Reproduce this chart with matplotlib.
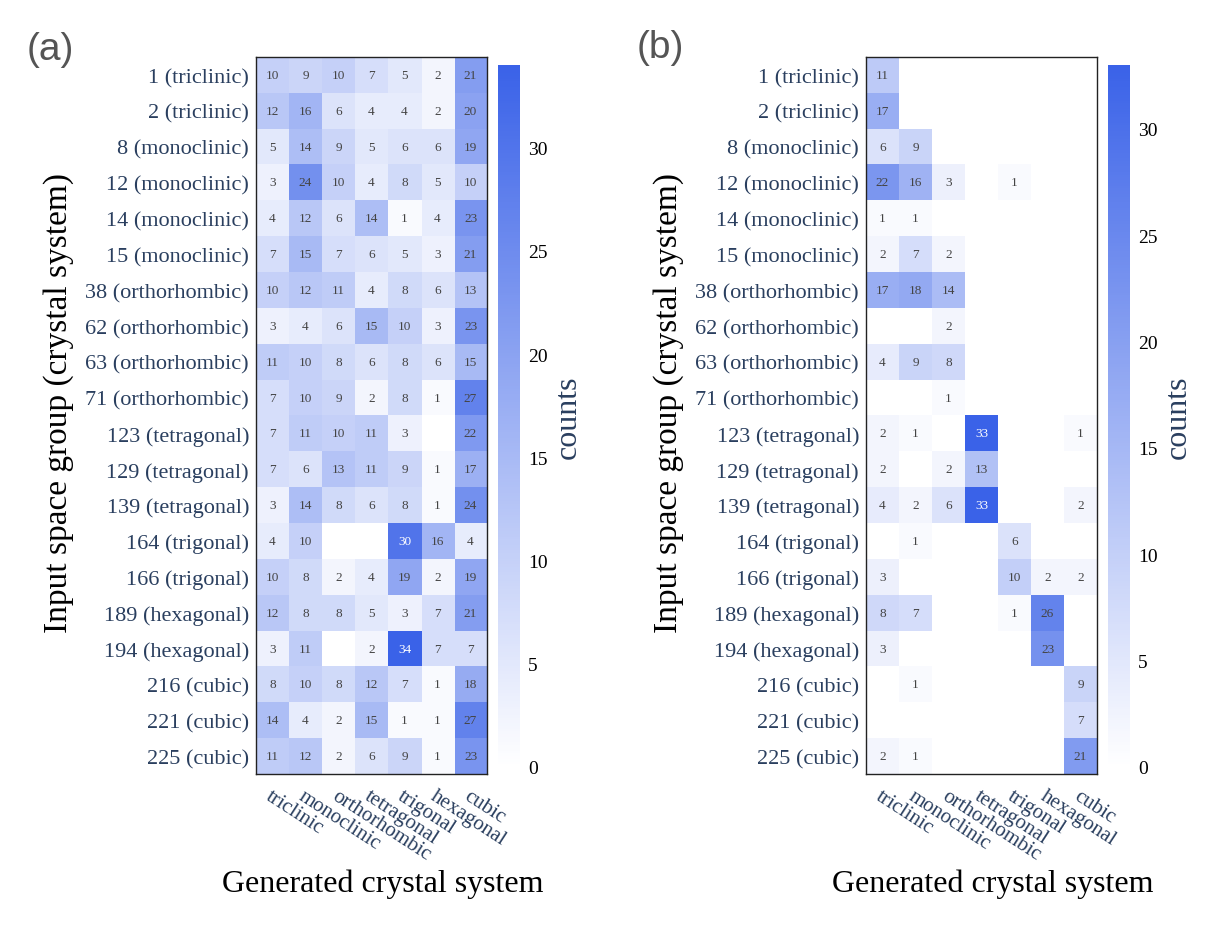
import numpy as np
import matplotlib
matplotlib.use("Agg")
import matplotlib.pyplot as plt
from matplotlib.colors import LinearSegmentedColormap

plt.rcParams["font.family"] = ["Liberation Serif", "DejaVu Serif"]

# ----------------------------------------------------------------
# Data
# ----------------------------------------------------------------
space_groups = [
    "1 (triclinic)", "2 (triclinic)", "8 (monoclinic)", "12 (monoclinic)",
    "14 (monoclinic)", "15 (monoclinic)", "38 (orthorhombic)", "62 (orthorhombic)",
    "63 (orthorhombic)", "71 (orthorhombic)", "123 (tetragonal)", "129 (tetragonal)",
    "139 (tetragonal)", "164 (trigonal)", "166 (trigonal)", "189 (hexagonal)",
    "194 (hexagonal)", "216 (cubic)", "221 (cubic)", "225 (cubic)",
]
crystal_systems = ["triclinic", "monoclinic", "orthorhombic", "tetragonal",
                   "trigonal", "hexagonal", "cubic"]

counts_a = np.array([
    [10, 9, 10, 7, 5, 2, 21],
    [12, 16, 6, 4, 4, 2, 20],
    [5, 14, 9, 5, 6, 6, 19],
    [3, 24, 10, 4, 8, 5, 10],
    [4, 12, 6, 14, 1, 4, 23],
    [7, 15, 7, 6, 5, 3, 21],
    [10, 12, 11, 4, 8, 6, 13],
    [3, 4, 6, 15, 10, 3, 23],
    [11, 10, 8, 6, 8, 6, 15],
    [7, 10, 9, 2, 8, 1, 27],
    [7, 11, 10, 11, 3, 0, 22],
    [7, 6, 13, 11, 9, 1, 17],
    [3, 14, 8, 6, 8, 1, 24],
    [4, 10, 0, 0, 30, 16, 4],
    [10, 8, 2, 4, 19, 2, 19],
    [12, 8, 8, 5, 3, 7, 21],
    [3, 11, 0, 2, 34, 7, 7],
    [8, 10, 8, 12, 7, 1, 18],
    [14, 4, 2, 15, 1, 1, 27],
    [11, 12, 2, 6, 9, 1, 23],
])

counts_b = np.array([
    [11, 0, 0, 0, 0, 0, 0],
    [17, 0, 0, 0, 0, 0, 0],
    [6, 9, 0, 0, 0, 0, 0],
    [22, 16, 3, 0, 1, 0, 0],
    [1, 1, 0, 0, 0, 0, 0],
    [2, 7, 2, 0, 0, 0, 0],
    [17, 18, 14, 0, 0, 0, 0],
    [0, 0, 2, 0, 0, 0, 0],
    [4, 9, 8, 0, 0, 0, 0],
    [0, 0, 1, 0, 0, 0, 0],
    [2, 1, 0, 33, 0, 0, 1],
    [2, 0, 2, 13, 0, 0, 0],
    [4, 2, 6, 33, 0, 0, 2],
    [0, 1, 0, 0, 6, 0, 0],
    [3, 0, 0, 0, 10, 2, 2],
    [8, 7, 0, 0, 1, 26, 0],
    [3, 0, 0, 0, 0, 23, 0],
    [0, 1, 0, 0, 0, 0, 9],
    [0, 0, 0, 0, 0, 0, 7],
    [2, 1, 0, 0, 0, 0, 21],
])

cbar_ticks = [0, 5, 10, 15, 20, 25, 30]

# ----------------------------------------------------------------
# Figure
# ----------------------------------------------------------------
W, H = 1224, 928
fig = plt.figure(figsize=(W / 100, H / 100), dpi=100)
cmap = LinearSegmentedColormap.from_list("white_blue", ["#ffffff", "#3a62e8"])
label_color = "#2a3f5f"


def px_axes(x0, y0, x1, y1):
    return fig.add_axes([x0 / W, 1 - y1 / H, (x1 - x0) / W, (y1 - y0) / H])


def draw_panel(counts, hm_box, cb_box, letter, letter_xy):
    ax = px_axes(*hm_box)
    cax = px_axes(*cb_box)
    vmax = counts.max()
    im = ax.imshow(counts, cmap=cmap, vmin=0, vmax=vmax, aspect="auto",
                   interpolation="nearest")

    # cell values, zeros left blank
    for i in range(counts.shape[0]):
        for j in range(counts.shape[1]):
            v = counts[i, j]
            if v == 0:
                continue
            color = "white" if v > 0.85 * vmax else "#444444"
            ax.text(j, i, str(v), ha="center", va="center", fontsize=9.5, color=color)

    ax.set_yticks(range(len(space_groups)))
    ax.set_yticklabels(space_groups, fontsize=16, color=label_color)
    ax.set_xticks(range(len(crystal_systems)))
    ax.set_xticklabels(crystal_systems, fontsize=15, color=label_color,
                       rotation=-33, ha="left", va="top", rotation_mode="anchor")
    ax.tick_params(length=0, pad=5)
    ax.tick_params(axis="x", pad=9)
    for s in ax.spines.values():
        s.set_linewidth(1.0)
        s.set_color("#222222")

    ax.set_ylabel("Input space group (crystal system)", fontsize=24)
    ax.yaxis.set_label_coords(-0.79, 0.519)
    ax.set_xlabel("Generated crystal system", fontsize=23)
    ax.xaxis.set_label_coords(0.55, -0.132)

    cbar = fig.colorbar(im, cax=cax)
    cbar.outline.set_visible(False)
    cbar.set_ticks(cbar_ticks)
    cax.tick_params(length=0, labelsize=14, pad=6)
    cbar.set_label("counts", fontsize=23, color=label_color, labelpad=4)

    fig.text(letter_xy[0] / W, 1 - letter_xy[1] / H, letter, fontsize=28,
             family="Liberation Sans", color="#555555", ha="center", va="center")


draw_panel(counts_a, (256, 58, 487, 775), (498, 66, 520, 768), "(a)", (50, 50))
draw_panel(counts_b, (866, 58, 1097, 775), (1108, 66, 1130, 768), "(b)", (660, 48))

plt.savefig("out.png", dpi=100)
plt.close()
